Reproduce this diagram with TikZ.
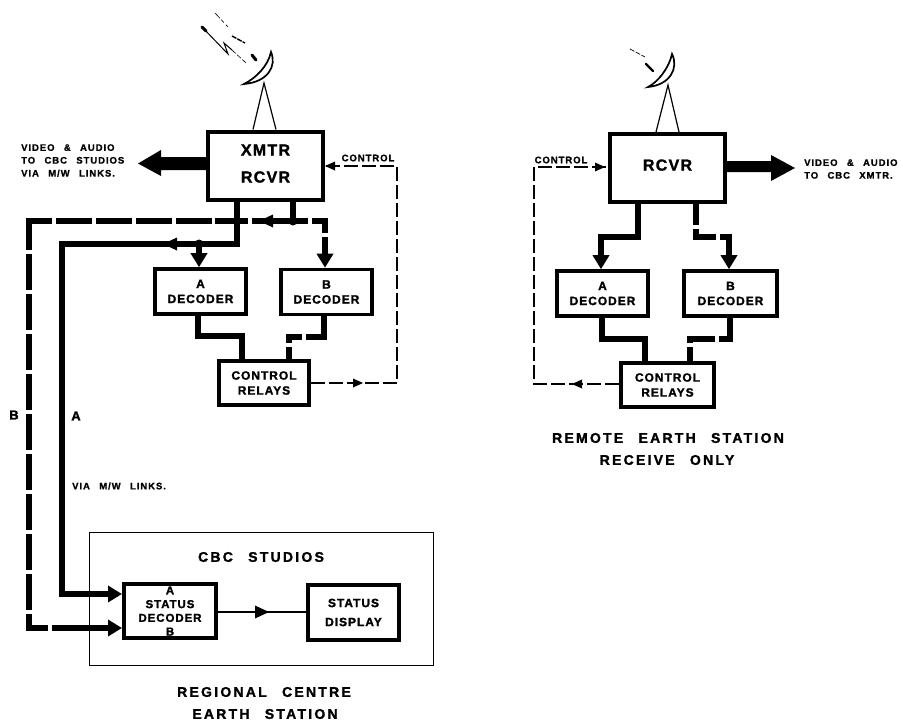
\documentclass[tikz,border=0pt]{standalone}
\usepackage{fontspec}
\usetikzlibrary{arrows.meta}
\newfontfamily\labfont[LetterSpace=8,WordSpace=1.6,BoldFeatures={FakeBold=1.5}]{Liberation Sans}
\newfontfamily\tinyfont[LetterSpace=10,WordSpace=2.6,BoldFeatures={FakeBold=1}]{Liberation Sans}
\newfontfamily\widefont[LetterSpace=16,WordSpace=2.5,BoldFeatures={FakeBold=1.5}]{Liberation Sans}
\newcommand{\midtipR}[1]{\fill[black,shift={#1}] (-7,-6.5) -- (7,0) -- (-7,6.5) -- cycle;}
\newcommand{\midtipL}[1]{\fill[black,shift={#1}] (7,-6.5) -- (-7,0) -- (7,6.5) -- cycle;}
\newcommand{\smalltipR}[1]{\fill[black,shift={#1}] (-5,-4.5) -- (5,0) -- (-5,4.5) -- cycle;}
\newcommand{\smalltipL}[1]{\fill[black,shift={#1}] (5,-4.5) -- (-5,0) -- (5,4.5) -- cycle;}
\tikzset{
  x=1pt,y=-1pt,
  boxbig/.style={draw=black,line width=4pt,inner sep=0pt,minimum width=115pt,minimum height=68pt,align=center,font=\labfont\bfseries\fontsize{16}{27}\selectfont},
  boxmid/.style={draw=black,line width=3.6pt,inner sep=0pt,minimum width=91pt,minimum height=45pt,align=center,font=\labfont\bfseries\fontsize{12}{15}\selectfont},
  lab/.style={inner sep=0pt,align=center,font=\labfont\bfseries\fontsize{#1}{#1}\selectfont},
  ctllab/.style={inner sep=0pt,align=center,font=\tinyfont\bfseries\fontsize{9.5}{10}\selectfont},
  widelab/.style={inner sep=0pt,align=center,font=\widefont\bfseries\fontsize{14}{14}\selectfont},
  leftlab/.style={inner sep=0pt,align=left,anchor=west,font=\tinyfont\bfseries\fontsize{9.5}{14}\selectfont},
  sig/.style={draw=black,line width=6pt,line join=miter},
  hw/.style={sig,-{Triangle[length=14pt,width=16pt]}},
  thinctl/.style={draw=black,line width=1.1pt,dash pattern=on 14pt off 4pt},
  bigarrow/.style={fill=black},
  dishline/.style={draw=black,line width=1.2pt},
  dishbowl/.style={draw=black,fill=white,line width=1.7pt,line join=miter},
  junction/.style={circle,fill=black,minimum size=9pt,inner sep=0pt}
}
\begin{document}
\begin{tikzpicture}
\useasboundingbox (0,0) rectangle (902,720);
%----- regional centre: frame
\node[draw=black,line width=1pt,minimum width=344pt,minimum height=133pt,inner sep=0pt] (studio) at (261,598.5) {};
%----- boxes
\node[boxbig] (xmtr) at (265.5,165.5) {XMTR\\RCVR\\[-23pt]\rule{0pt}{0pt}};
\node[boxmid] (adec) at (200.5,291.5) {A\\DECODER};
\node[boxmid] (bdec) at (326.5,292) {B\\DECODER};
\node[boxmid,line width=4pt,minimum width=90pt,minimum height=44pt] (relay) at (264,383) {CONTROL\\RELAYS};
\node[boxmid,line width=4pt,minimum width=92pt,minimum height=54pt,font=\labfont\bfseries\fontsize{11.5}{13.7}\selectfont] (sdec) at (170,611) {A\\STATUS\\DECODER\\B};
\node[boxmid,line width=4pt,minimum width=91pt,minimum height=55pt,font=\labfont\bfseries\fontsize{12}{19}\selectfont] (sdisp) at (353.5,612.5) {STATUS\\DISPLAY};
\node[boxbig] (rcvr) at (667.5,168) {RCVR\\[-21pt]\rule{0pt}{0pt}};
\node[boxmid] (radec) at (602.5,293.5) {A\\DECODER};
\node[boxmid,minimum width=93pt] (rbdec) at (730.5,293.5) {B\\DECODER};
\node[boxmid,line width=4pt,minimum width=93pt,minimum height=44pt] (rrelay) at (667.5,385) {CONTROL\\RELAYS};
%----- way points
\coordinate (ax) at (237,244);
\coordinate (aj) at (199,244);
\coordinate (al) at (62,244);
\coordinate (ab) at (62,594);
\coordinate (bx) at (293,221);
\coordinate (bk) at (212,221);
\coordinate (bl) at (29,221);
\coordinate (bb) at (29,628);
\coordinate (br) at (325,221);
\coordinate (rel1) at (198,336);
\coordinate (rel2) at (242,336);
\coordinate (rel3) at (324,337);
\coordinate (rel4) at (289,337);
\coordinate (ctl1) at (397,166);
\coordinate (ctl2) at (397,383);
\coordinate (rctl1) at (534,167);
\coordinate (rctl2) at (534,384);
\coordinate (rA1) at (638,237);
\coordinate (rA2) at (601,237);
\coordinate (rB1) at (696,237);
\coordinate (rB2) at (729,237);
\coordinate (rrel1) at (602,339);
\coordinate (rrel2) at (645,339);
\coordinate (rrel3) at (730,339);
\coordinate (rrel4) at (690,339);
%----- left station signal paths
\draw[hw] (xmtr.south -| ax) -- (ax) -- (al) -- (ab) -- (sdec.west |- ab);
\draw[hw] (aj) -- (adec.north -| aj);
\node[junction] at (aj) {};
\midtipL{(170,244)}
\draw[sig] (xmtr.south -| bx) -- (bx);
\node[junction] at (bx) {};
\draw[sig,dash pattern=on 41pt off 4pt on 33pt off 3pt] (bx) -- (bk);
\draw[sig,dash pattern=on 36pt off 4pt,shorten >=-3pt] (bk) -- (bl);
\draw[sig,dash pattern=on 36pt off 4pt,dash phase=7pt] (bl) -- (bb);
\draw[hw,dash pattern=on 22pt off 4pt on 100pt,shorten <=-3pt] (bb) -- (sdec.west |- bb);
\draw[hw,dash pattern=on 15pt off 4pt on 25pt off 4pt on 40pt] (bx) -- (br) -- (bdec.north -| br);
\midtipL{(266,221)}
\draw[sig,line width=5.5pt] (adec.south -| rel1) |- (rel2) -- (relay.north -| rel2);
\draw[sig,line width=5.5pt,dash pattern=on 39pt off 4pt on 19pt off 4pt on 20pt] (bdec.south -| rel3) |- (rel4) -- (relay.north -| rel4);
\draw[thinctl] (relay.east |- ctl2) -- (ctl2) -- (ctl1) -- (xmtr.east |- ctl1);
\smalltipR{(358,383)}
\smalltipL{(330,166)}
%----- big arrows
\fill[bigarrow] (xmtr.west |- 0,157) -- (161,157) -- (161,150) -- (138,163.5) -- (161,176) -- (161,170) -- (xmtr.west |- 0,170) -- cycle;
\fill[bigarrow] (rcvr.east |- 0,161) -- (771,161) -- (771,155) -- (795,168) -- (771,181) -- (771,172) -- (rcvr.east |- 0,172) -- cycle;
%----- status link
\draw[draw=black,line width=1.2pt] (sdec.east |- 0,612) -- (sdisp.west |- 0,612);
\midtipR{(262,612)}
%----- right station signal paths
\draw[hw] (rcvr.south -| rA1) |- (rA2) -- (radec.north -| rA2);
\draw[hw,dash pattern=on 21pt off 4pt on 28pt off 4pt on 60pt] (rcvr.south -| rB1) |- (rB2) -- (rbdec.north -| rB2);
\draw[sig,line width=5.5pt] (radec.south -| rrel1) |- (rrel2) -- (rrelay.north -| rrel2);
\draw[sig,line width=5.5pt,dash pattern=on 32pt off 4pt on 29pt off 4pt on 17pt] (rbdec.south -| rrel3) |- (rrel4) -- (rrelay.north -| rrel4);
\draw[thinctl] (rrelay.west |- rctl2) -- (rctl2) -- (rctl1) -- (rcvr.west |- rctl1);
\smalltipL{(577,384)}
\smalltipR{(600,167)}
%----- left dish
\coordinate (dishA) at (264,83);
\draw[dishline] (xmtr.north -| 253,0) -- (dishA) -- (xmtr.north -| 276,0);
\path[dishbowl] (271,52) .. controls (277,66) and (268,82) .. (244,84) .. controls (256,78) and (268,66) .. cycle;
\draw[draw=black,line width=.6pt,dash pattern=on 7pt off 2pt on 4pt off 3pt] (215,13) -- (228,27);
\draw[draw=black,line width=1.4pt,dash pattern=on 5pt off 1pt] (232,36) -- (245,43);
\draw[draw=black,line width=3pt,line cap=round] (252,55) -- (256,60);
\draw[draw=black,line width=1pt] (202,27) -- (228,54) -- (224,43) -- (232,50);
\draw[draw=black,line width=.6pt,dash pattern=on 5pt off 2pt] (232,50) -- (246,63);
\draw[draw=black,line width=3pt,line cap=round] (202,27) -- (206,31);
%----- right dish
\coordinate (rdishA) at (668,85);
\draw[dishline] (rcvr.north -| 656,0) -- (rdishA) -- (rcvr.north -| 679,0);
\path[dishbowl] (672,54) .. controls (679,68) and (670,85) .. (648,87) .. controls (658,82) and (669,68) .. cycle;
\draw[draw=black,line width=.7pt,dash pattern=on 5pt off 1.5pt] (630,49) -- (645,57);
\draw[draw=black,line width=2.4pt,line cap=round] (646,64) -- (653,71);
%----- labels
\node[leftlab] (l1) at (21,160.5) {\shortstack[l]{VIDEO \& AUDIO\\[3pt]TO CBC STUDIOS\\[3pt]VIA M/W LINKS.}};
\node[ctllab] (l2) at (368,158) {CONTROL};
\node[ctllab] (l3) at (561,160) {CONTROL};
\node[leftlab] (l4) at (804,169) {\shortstack[l]{VIDEO \& AUDIO\\[3pt]TO CBC XMTR.}};
\node[lab=13] (l5) at (14,415) {B};
\node[lab=13] (l6) at (76,416) {A};
\node[leftlab] (l7) at (72,486) {VIA M/W LINKS.};
\node[widelab] (l8) at (261,557) {CBC STUDIOS};
\node[widelab] (l9) at (264,692) {REGIONAL CENTRE};
\node[widelab] (l10) at (265,714) {EARTH STATION};
\node[widelab] (l11) at (668,438) {REMOTE EARTH STATION};
\node[widelab] (l12) at (667,460) {RECEIVE ONLY};
\end{tikzpicture}
\end{document}
